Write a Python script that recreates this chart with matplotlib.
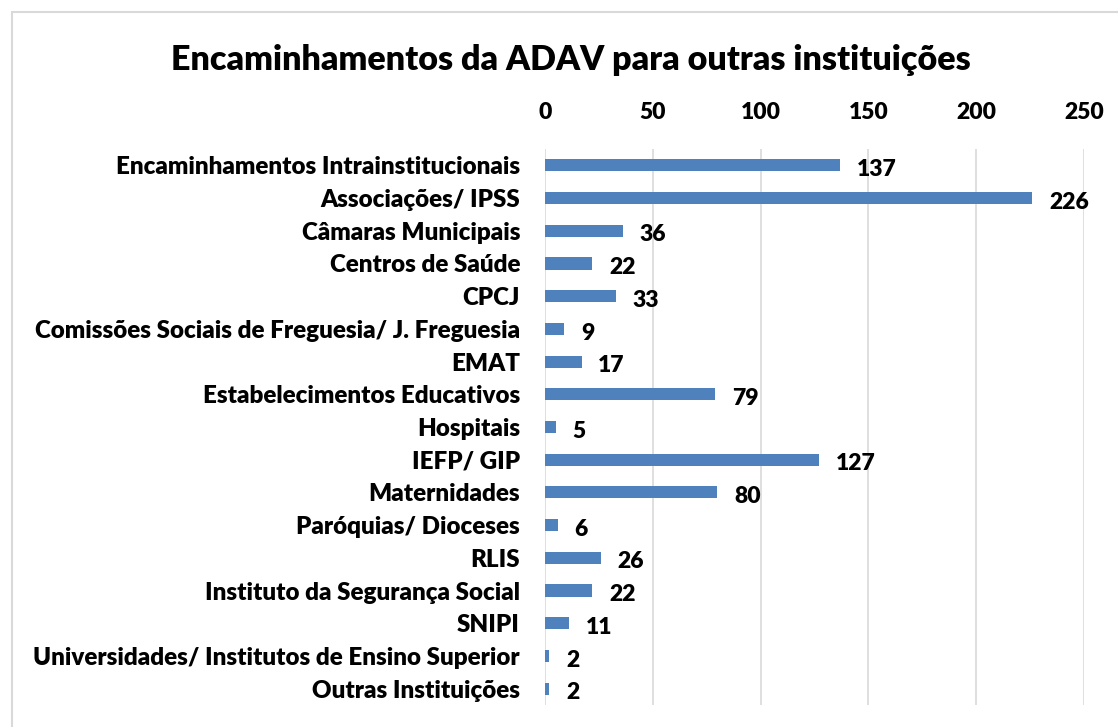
import matplotlib.pyplot as plt
from matplotlib.patches import Rectangle

plt.rcParams['font.family'] = ['Lato', 'DejaVu Sans']
plt.rcParams['font.weight'] = 'heavy'

categorias = [
    "Encaminhamentos Intrainstitucionais",
    "Associações/ IPSS",
    "Câmaras Municipais",
    "Centros de Saúde",
    "CPCJ",
    "Comissões Sociais de Freguesia/ J. Freguesia",
    "EMAT",
    "Estabelecimentos Educativos",
    "Hospitais",
    "IEFP/ GIP",
    "Maternidades",
    "Paróquias/ Dioceses",
    "RLIS",
    "Instituto da Segurança Social",
    "SNIPI",
    "Universidades/ Institutos de Ensino Superior",
    "Outras Instituições",
]
valores = [137, 226, 36, 22, 33, 9, 17, 79, 5, 127, 80, 6, 26, 22, 11, 2, 2]

fig = plt.figure(figsize=(11.18, 7.27), dpi=100)
ax = fig.add_axes([545 / 1118, 1 - 705 / 727, 539 / 1118, 556 / 727])

# moldura cinzenta do gráfico
fig.patches.append(Rectangle((12 / 1118, -0.05), 1.2, 1 - 12 / 727 + 0.05,
                             transform=fig.transFigure, fill=False,
                             edgecolor='#d9d9d9', linewidth=1.5))

y = list(range(len(categorias)))
ax.barh(y, valores, height=0.37, color='#4f81bd')
for yi, v in zip(y, valores):
    ax.annotate(str(v), (v, yi), xytext=(12, -3), textcoords='offset points',
                ha='left', va='center', fontsize=16.5, fontweight='heavy')

ax.set_xlim(0, 250)
ax.set_ylim(len(categorias) - 0.5, -0.5)
ax.set_xticks([0, 50, 100, 150, 200, 250])
ax.xaxis.tick_top()
ax.set_yticks(y)
ax.set_yticklabels(categorias)
ax.tick_params(axis='x', length=0, labelsize=16.5, pad=19)
ax.tick_params(axis='y', length=0, labelsize=17.4, pad=18)
ax.grid(axis='x', color='#d9d9d9', linewidth=1.2)
ax.set_axisbelow(True)
for s in ax.spines.values():
    s.set_visible(False)

fig.text(571 / 1118, 1 - 60 / 727, "Encaminhamentos da ADAV para outras instituições",
         ha='center', va='center', fontsize=24.5, fontweight='heavy')

fig.savefig('out.png', dpi=100)
